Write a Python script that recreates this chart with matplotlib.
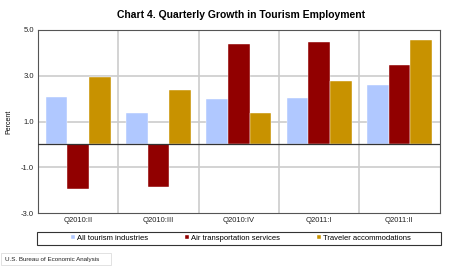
import numpy as np
import matplotlib
matplotlib.use("Agg")
from matplotlib import pyplot as plt
from matplotlib.patches import Rectangle

quarters = ["Q2010:II", "Q2010:III", "Q2010:IV", "Q2011:I", "Q2011:II"]
all_tourism = [2.09, 1.37, 1.97, 2.03, 2.60]
air_transport = [-1.93, -1.86, 4.40, 4.49, 3.49]
traveler_accom = [2.96, 2.37, 1.39, 2.79, 4.57]
series_names = ["All tourism industries", "Air transportation services", "Traveler accommodations"]
colors = ["#b0c8ff", "#910000", "#c89200"]
yticks = [-3.0, -1.0, 1.0, 3.0, 5.0]

plt.rcParams['font.family'] = ['Liberation Sans', 'DejaVu Sans']

fig = plt.figure(figsize=(4.61, 2.73), dpi=100)
ax = fig.add_axes([38 / 461, 1 - 213 / 273, 401.5 / 461, 183 / 273])

x = np.arange(len(quarters))
w = 0.27
for i, (vals, name, c) in enumerate(zip([all_tourism, air_transport, traveler_accom], series_names, colors)):
    ax.bar(x + (i - 1) * w, vals, w, color=c, label=name, zorder=3, edgecolor='white', linewidth=0.3)

ax.set_xlim(-0.5, len(quarters) - 0.5)
ax.set_ylim(-3, 5)
ax.set_yticks(yticks)
ax.set_yticklabels(['%.1f' % v for v in yticks], fontsize=5.5, color='#222222')
ax.set_xticks(x)
ax.set_xticklabels(quarters, fontsize=5.5, color='#222222')
ax.tick_params(axis='both', length=0, pad=3)
for yv in [1, 3, -1]:
    ax.axhline(yv, color='#cccccc', linewidth=1.2, zorder=1)
for xv in np.arange(0.5, len(quarters) - 0.5):
    ax.axvline(xv, color='#cccccc', linewidth=1.2, zorder=1)
ax.axhline(0, color='#333333', linewidth=0.9, zorder=4)
for s in ax.spines.values():
    s.set_color('#555555')
    s.set_linewidth(0.8)
ax.set_ylabel('Percent', fontsize=5, labelpad=6)

fig.text(241 / 461, 1 - 15 / 273, 'Chart 4. Quarterly Growth in Tourism Employment',
         ha='center', va='center', fontsize=7.5, fontweight='bold')

leg = fig.legend(loc='center', bbox_to_anchor=(241 / 461, 1 - 238.5 / 273), ncol=3, frameon=False,
                 fontsize=5.5, handlelength=0.5, handleheight=0.5, handletextpad=0.3,
                 columnspacing=4.8)
fig.patches.append(Rectangle((37 / 461, 1 - 245 / 273), 404 / 461, 13 / 273, transform=fig.transFigure,
                             fill=False, edgecolor='#333333', linewidth=0.8))

fig.patches.append(Rectangle((1 / 461, 1 - 265 / 273), 110 / 461, 12 / 273, transform=fig.transFigure,
                             fill=False, edgecolor='#dddddd', linewidth=0.6))
fig.text(5 / 461, 1 - 259 / 273, 'U.S. Bureau of Economic Analysis', ha='left', va='center',
         fontsize=4.5, color='#222222')

fig.savefig('out.png', dpi=100)
